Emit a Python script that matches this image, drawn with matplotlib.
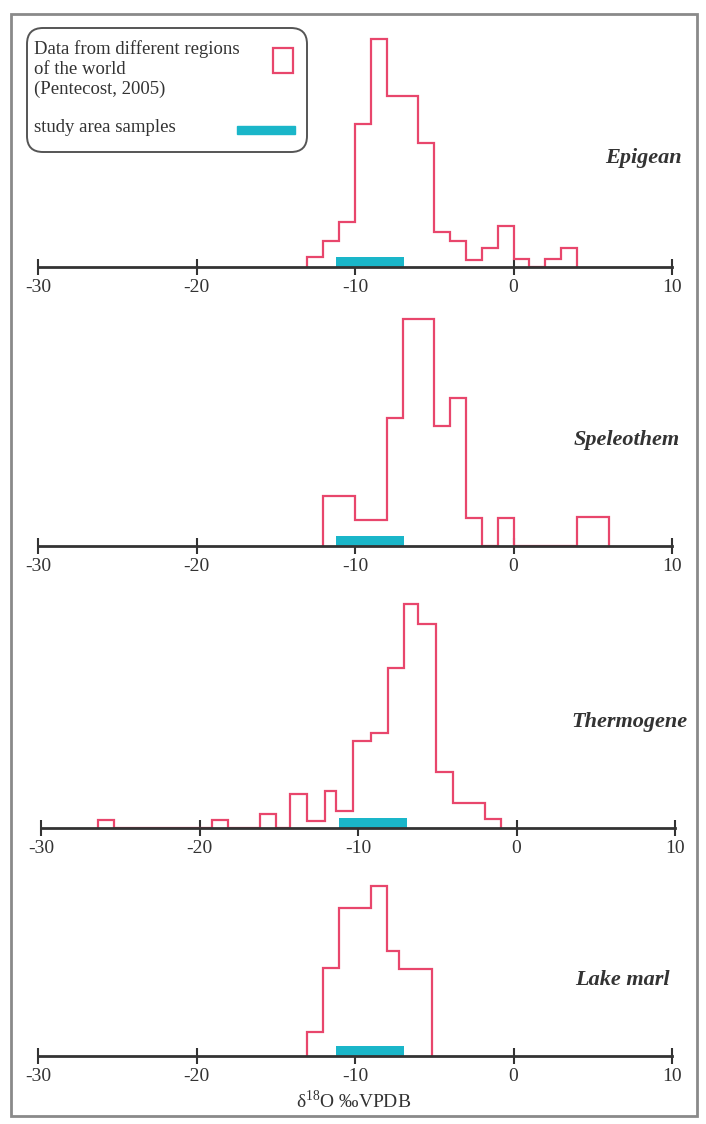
import matplotlib
matplotlib.use('Agg')
import matplotlib.pyplot as plt
from matplotlib.patches import FancyBboxPatch, Rectangle
import numpy as np

plt.rcParams['font.family'] = ['Liberation Serif', 'DejaVu Serif']
plt.rcParams['mathtext.fontset'] = 'custom'
plt.rcParams['mathtext.rm'] = 'Liberation Serif'

# histogram data (bin edges in permil, relative frequency)
epigean_edges = [-13, -12, -11, -10, -9, -8, -7, -6, -5, -4, -3, -2, -1, 0, 1, 2, 3, 4]
epigean_freq = [1.0, 2.6, 4.5, 14.3, 22.8, 17.1, 17.1, 12.4, 3.5, 2.6, 0.7, 1.9, 4.1, 0.8, 0, 0.8, 1.9]

speleo_edges = [-12, -11, -10, -9, -8, -7, -6, -5, -4, -3, -2, -1, 0, 1, 2, 3, 4, 5, 6]
speleo_freq = [5.0, 5.0, 2.6, 2.6, 12.8, 22.7, 22.7, 12.0, 14.8, 2.8, 0, 2.8, 0, 0, 0, 0, 2.9, 2.9]

thermo_edges = [-26.4, -25.4, -19.2, -18.2, -16.2, -15.2, -14.3, -13.2, -12.1, -11.4,
                -10.3, -9.2, -8.1, -7.1, -6.2, -5.1, -4.0, -2.0, -1.0]
thermo_freq = [0.8, 0, 0.8, 0, 1.4, 0, 3.4, 0.7, 3.7, 1.7, 8.7, 9.5, 16.0, 22.4, 20.4, 5.6, 2.5, 0.9]

marl_edges = [-13, -12, -11, -9, -8, -7.2, -5.15]
marl_freq = [2.4, 8.8, 14.8, 17.0, 10.5, 8.7]

study_range = [-11.2, -6.9]

panel_names = ['Epigean', 'Speleothem', 'Thermogene', 'Lake marl']
ticks = [-30, -20, -10, 0, 10]

pink = '#e8466c'
cyan = '#1ab6c9'
W, H = 706, 1124

fig = plt.figure(figsize=(W / 100, H / 100), dpi=100)

panels = [(epigean_edges, epigean_freq), (speleo_edges, speleo_freq),
          (thermo_edges, thermo_freq), (marl_edges, marl_freq)]
baselines = [267, 546, 828, 1056]
xspans = [(38, 672), (38, 672), (41, 675), (38, 672)]
label_x = [682, 680, 687, 670]
label_dy = [109, 106, 106, 76]

for (edges, freq), name, yb, (x0, x1), lx, dy in zip(panels, panel_names, baselines, xspans, label_x, label_dy):
    ax = fig.add_axes([x0 / W, (H - yb) / H, (x1 - x0) / W, 250 / H])
    ax.set_facecolor('none')
    ax.stairs(freq, edges, baseline=0, fill=False, color=pink, lw=1.6, zorder=2)
    ax.barh(0.5, study_range[1] - study_range[0], left=study_range[0], height=1.0,
            color=cyan, zorder=3)
    ax.set_xlim(-30, 10)
    ax.set_ylim(0, 25)
    for s in ['top', 'left', 'right']:
        ax.spines[s].set_visible(False)
    ax.spines['bottom'].set_linewidth(2)
    ax.spines['bottom'].set_color('#333333')
    ax.spines['bottom'].set_zorder(4)
    ax.set_yticks([])
    ax.set_xticks(ticks)
    ax.set_xticklabels([str(t) for t in ticks])
    ax.tick_params(axis='x', direction='inout', length=11, width=1.5, color='#333333',
                   labelsize=14, pad=3, labelcolor='#333333')
    ax.text((lx - x0) / (x1 - x0), dy / 250, name, transform=ax.transAxes,
            ha='right', va='center', fontsize=16, style='italic', weight='bold', color='#333333')

# overlay in pixel coordinates for frame, legend and axis title
ov = fig.add_axes([0, 0, 1, 1], zorder=10)
ov.set_xlim(0, W)
ov.set_ylim(H, 0)
ov.axis('off')
ov.patch.set_visible(False)

ov.add_patch(Rectangle((11, 14), 686, 1102, fill=False, ec='#8a8a8a', lw=2))
ov.add_patch(FancyBboxPatch((27, 28), 280, 124, boxstyle='round,pad=0,rounding_size=16',
                            fill=False, ec='#555555', lw=1.4))
ov.text(34, 49, 'Data from different regions', fontsize=13.5, va='center', color='#333333')
ov.text(34, 69, 'of the world', fontsize=13.5, va='center', color='#333333')
ov.text(34, 89, '(Pentecost, 2005)', fontsize=13.5, va='center', color='#333333')
ov.text(34, 128, 'study area samples', fontsize=13.5, va='center', color='#333333')
ov.add_patch(Rectangle((273, 48), 20, 25, fill=False, ec=pink, lw=1.6))
ov.add_patch(Rectangle((237, 126), 58, 8, color=cyan))

ov.text(354, 1101, r'δ$^{18}$O ‰VPDB', fontsize=14, ha='center', va='center', color='#333333')

fig.savefig('out.png', dpi=100)
